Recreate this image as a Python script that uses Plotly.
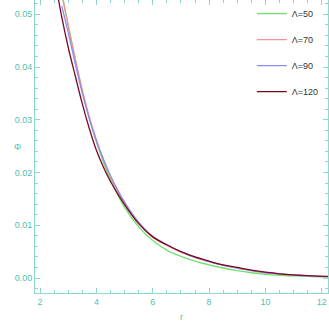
import plotly.graph_objects as go

# radial grid shared by the curves
r = [2.5, 2.75, 3.0, 3.25, 3.5, 3.75, 4.0, 4.25, 4.5, 5.0, 5.5, 6.0, 6.5,
     7.0, 7.5, 8.0, 8.5, 9.0, 9.5, 10.0, 10.5, 11.0, 11.5, 12.0, 12.3]

# Phi(r) for each Lambda
phi_50 = [0.0625, 0.0548, 0.0479, 0.0414, 0.0354, 0.0302, 0.0258, 0.0219, 0.0186,
          0.0134, 0.0097, 0.0071, 0.0053, 0.0041, 0.0032, 0.0025, 0.0019, 0.0014,
          0.0010, 0.0007, 0.0005, 0.0004, 0.0003, 0.00022, 0.0002]
phi_70 = [0.0620, 0.0545, 0.0478, 0.0415, 0.0356, 0.0305, 0.0262, 0.0224, 0.0192,
          0.0141, 0.0103, 0.0077, 0.0062, 0.0049, 0.0039, 0.0031, 0.0024, 0.0019,
          0.0014, 0.0010, 0.0008, 0.0006, 0.0004, 0.0003, 0.00027]
r_90 = [2.77, 3.0, 3.25, 3.5, 3.75, 4.0, 4.25, 4.5, 5.0, 5.5, 6.0, 6.5,
        7.0, 7.5, 8.0, 8.5, 9.0, 9.5, 10.0, 10.5, 11.0, 11.5, 12.0, 12.3]
phi_90 = [0.0516, 0.0465, 0.0406, 0.0350, 0.0302, 0.0260, 0.0225, 0.0194,
          0.0144, 0.0106, 0.0079, 0.0063, 0.0050, 0.0039, 0.0031, 0.0024, 0.0019,
          0.0014, 0.0010, 0.0008, 0.0006, 0.0004, 0.0003, 0.00027]
phi_120 = [0.0575, 0.0500, 0.0437, 0.0383, 0.0330, 0.0283, 0.0242, 0.0210, 0.0183,
           0.0139, 0.0103, 0.0078, 0.0063, 0.0050, 0.0040, 0.0032, 0.0025, 0.0020,
           0.0015, 0.0011, 0.0008, 0.0006, 0.00045, 0.00033, 0.0003]

labels = ["Λ=50", "Λ=70", "Λ=90", "Λ=120"]
colors = ["#6ee06e", "#f09494", "#8c8cf0", "#7a0a22"]
series = [(r, phi_50), (r, phi_70), (r_90, phi_90), (r, phi_120)]

frame = "#8fd8d0"
tick_col = "#4fbfb0"

fig = go.Figure()
for (xs, ys), name, col in zip(series, labels, colors):
    fig.add_trace(go.Scatter(x=xs, y=ys, mode="lines", name=name, legendgroup=name,
                             line=dict(color=col, width=1.3, shape="spline")))

axis_common = dict(showline=True, linecolor=frame, linewidth=1, mirror="ticks",
                   ticks="inside", tickcolor=frame, ticklen=5, showgrid=False,
                   zeroline=False, automargin=False,
                   tickfont=dict(size=9, color=tick_col, family="Arial"))

fig.update_xaxes(range=[1.82, 12.22], tickvals=[2, 4, 6, 8, 10, 12],
                 minor=dict(dtick=0.5, tick0=2, ticks="inside", ticklen=3, tickcolor=frame),
                 **axis_common)
fig.update_yaxes(range=[-0.00284, 0.0527], tickvals=[0, 0.01, 0.02, 0.03, 0.04, 0.05],
                 tickformat=".2f",
                 minor=dict(dtick=0.002, tick0=0, ticks="inside", ticklen=3, tickcolor=frame),
                 **axis_common)

fig.update_layout(
    width=329, height=321,
    margin=dict(l=35, r=1, t=0, b=28, autoexpand=False),
    plot_bgcolor="white", paper_bgcolor="white",
    legend=dict(x=0.74, y=1.003, xanchor="left", yanchor="top", tracegroupgap=7,
                font=dict(size=9, color="#333333", family="Arial"),
                bgcolor="rgba(0,0,0,0)"),
    annotations=[
        dict(text="Φ", x=-0.08, y=0.5, xref="paper", yref="paper", showarrow=False,
             font=dict(size=9, color=tick_col, family="Arial")),
        dict(text="r", x=0.5, y=-0.105, xref="paper", yref="paper", showarrow=False,
             font=dict(size=9, color=tick_col, family="Arial")),
    ],
)

# page body has a default 8px margin; drop it so the figure sits at the corner
fig.write_html("out.html", config={"displayModeBar": False},
               post_script="document.body.style.margin='0px';")
